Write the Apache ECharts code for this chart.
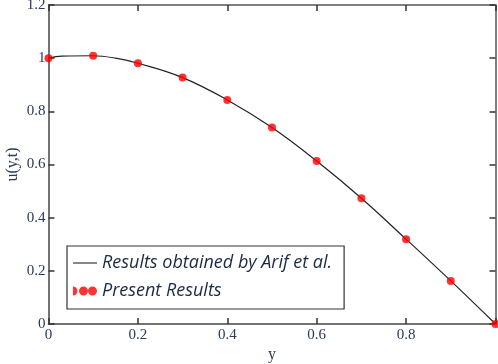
<!DOCTYPE html>
<html>
<head>
<meta charset="utf-8">
<script src="https://cdn.jsdelivr.net/npm/echarts@6/dist/echarts.min.js"></script>
<style>html,body{margin:0;padding:0;background:#fff}#c{width:498px;height:364px}</style>
</head>
<body>
<div id="c"></div>
<script>
// Curve (Arif et al.)
const curveX = [0, 0.03, 0.1, 0.15, 0.2, 0.3, 0.4, 0.5, 0.6, 0.7, 0.8, 0.9, 1.0];
const curveY = [1.0, 1.008, 1.009, 1.0, 0.981, 0.927, 0.843, 0.739, 0.613, 0.473, 0.319, 0.162, 0.0];
// Present results (red dots)
const pointX = [0, 0.1, 0.2, 0.3, 0.4, 0.5, 0.6, 0.7, 0.8, 0.9, 1.0];
const pointY = [1.0, 1.009, 0.981, 0.927, 0.843, 0.739, 0.613, 0.473, 0.319, 0.162, 0.0];
const xTickLabels = ['0', '0.2', '0.4', '0.6', '0.8'];
const yTickLabels = ['0', '0.2', '0.4', '0.6', '0.8', '1', '1.2'];
const seriesNames = ['Results obtained by Arif et al.', 'Present Results'];

const labelColor = '#2a3a5a';
const serif = 'Liberation Serif';
const chart = echarts.init(document.getElementById('c'));
const fmtX = v => { const i = Math.round(v / 0.2); return i < xTickLabels.length ? xTickLabels[i] : ''; };
const fmtY = v => { const i = Math.round(v / 0.2); return yTickLabels[i] || ''; };
const tick = () => ({ show: true, inside: true, length: 6, lineStyle: { color: '#333', width: 1.5 } });
const line = c => ({ onZero: false, lineStyle: { color: c, width: 1.5 } });

chart.setOption({
  animation: false,
  grid: { left: 48.5, right: 2.5, top: 5, bottom: 40, containLabel: false, outerBoundsMode: 'none' },
  legend: {
    orient: 'vertical', left: 67, top: 246,
    padding: [7, 12, 8, 6],
    borderColor: '#333', borderWidth: 1.2,
    itemWidth: 24, itemHeight: 9, itemGap: 8, itemTextGap: 3,
    symbolKeepAspect: true,
    textStyle: { fontFamily: 'Open Sans', fontStyle: 'italic', fontSize: 18, color: '#1b2a44', lineHeight: 20 },
    data: [
      { name: seriesNames[0], icon: 'path://M0,0 L24,0 L24,1.4 L0,1.4 Z', itemStyle: { color: '#555' } },
      { name: seriesNames[1], icon: 'path://M0,0 A4.5,4.5 0 0,1 0,9 Z M6,4.5 a4.5,4.5 0 1,0 9,0 a4.5,4.5 0 1,0 -9,0 Z M15,4.5 a4.5,4.5 0 1,0 9,0 a4.5,4.5 0 1,0 -9,0 Z' }
    ]
  },
  xAxis: [{
    type: 'value', min: 0, max: 1, interval: 0.2, position: 'bottom',
    name: 'y', nameLocation: 'middle', nameGap: 23, nameMoveOverlap: false,
    nameTextStyle: { fontFamily: serif, fontSize: 16, color: labelColor },
    axisLine: line('#444'),
    axisTick: tick(),
    axisLabel: { formatter: fmtX, fontFamily: serif, fontSize: 15, color: labelColor, margin: 4 },
    splitLine: { show: false }
  }, {
    type: 'value', min: 0, max: 1, interval: 0.2, position: 'top',
    axisLine: line('#555'),
    axisTick: tick(),
    axisLabel: { show: false }, splitLine: { show: false }
  }],
  yAxis: [{
    type: 'value', min: 0, max: 1.2, interval: 0.2, position: 'left',
    name: 'u(y,t)', nameLocation: 'middle', nameGap: 28, nameRotate: 90, nameMoveOverlap: false,
    nameTextStyle: { fontFamily: serif, fontSize: 16, color: labelColor },
    axisLine: line('#444'),
    axisTick: tick(),
    axisLabel: { formatter: fmtY, fontFamily: serif, fontSize: 15, color: labelColor, margin: 3 },
    splitLine: { show: false }
  }, {
    type: 'value', min: 0, max: 1.2, interval: 0.2, position: 'right',
    axisLine: line('#555'),
    axisTick: tick(),
    axisLabel: { show: false }, splitLine: { show: false }
  }],
  series: [{
    name: seriesNames[0], type: 'line', xAxisIndex: 0, yAxisIndex: 0,
    data: curveX.map((x, i) => [x, curveY[i]]),
    smooth: 0.4, symbol: 'none',
    lineStyle: { color: '#222', width: 1.2 },
    itemStyle: { color: '#555' }
  }, {
    name: seriesNames[1], type: 'scatter', xAxisIndex: 0, yAxisIndex: 0,
    data: pointX.map((x, i) => [x, pointY[i]]),
    symbol: 'circle', symbolSize: 8, z: 3,
    itemStyle: { color: '#ff0000' }
  }]
});
</script>
</body>
</html>
